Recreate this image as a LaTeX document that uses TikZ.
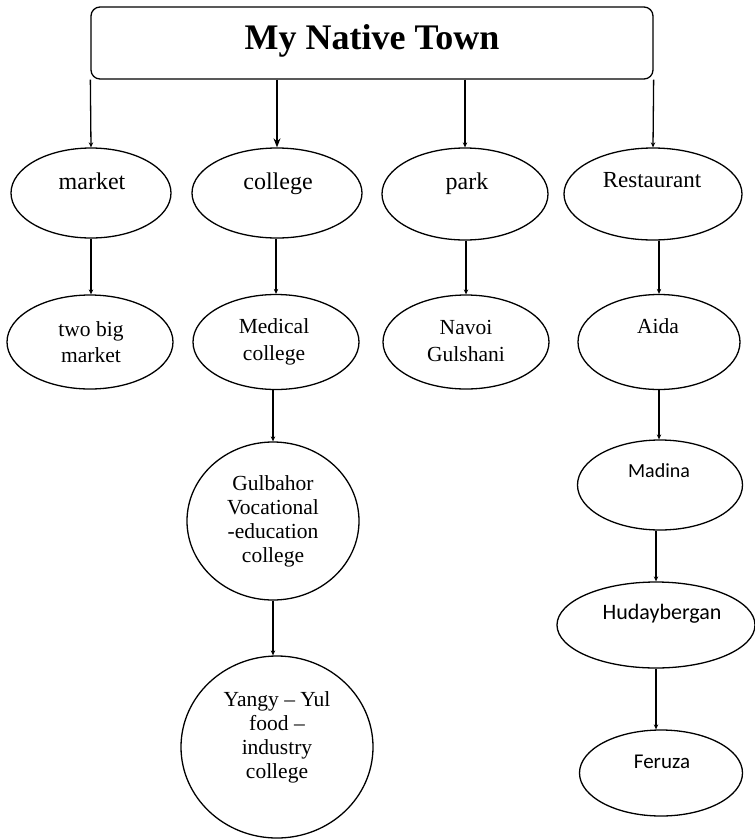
\documentclass[tikz,border=0pt]{standalone}
\usepackage{fontspec}
\setmainfont{Liberation Serif}
\newfontfamily\calibfont{Carlito}
\usetikzlibrary{shapes.geometric,arrows.meta}

\begin{document}
\begin{tikzpicture}[x=1pt,y=-1pt,
  line width=1.3pt,
  titlebox/.style={draw, rectangle, rounded corners=9pt, minimum width=562pt,
    minimum height=72pt, inner sep=0pt},
  oval/.style={draw, ellipse, inner sep=0pt},
  lbl/.style={inner sep=0pt, font=\fontsize{24}{28}\selectfont},
  sublbl/.style={inner sep=0pt, align=center, font=\fontsize{21.5}{26.7}\selectfont},
  circlbl/.style={inner sep=0pt, align=center, font=\fontsize{21.5}{24}\selectfont},
  sanslbl/.style={inner sep=0pt, font=\calibfont\fontsize{21}{24}\selectfont},
  link/.style={-{Stealth[length=5pt,width=4.5pt]}},
  biglink/.style={-{Stealth[length=9pt,width=7pt]}}
]
\useasboundingbox (0,0) rectangle (755,839);

% title
\node[titlebox] (town) at (372,43) {};
\node[inner sep=0pt, anchor=base, font=\fontsize{36}{40}\selectfont\bfseries]
  (town-t) at (372,49) {My Native Town};

% first row
\node[oval, minimum width=160pt, minimum height=90pt] (market) at (91,193) {};
\node[oval, minimum width=170pt, minimum height=90pt] (college) at (277,193) {};
\node[oval, minimum width=166pt, minimum height=92pt] (park) at (465,194) {};
\node[oval, minimum width=178pt, minimum height=92pt] (rest) at (653,194) {};
\node[lbl, anchor=base] (market-t) at (92,189) {market};
\node[lbl, anchor=base] (college-t) at (278,189) {college};
\node[lbl, anchor=base] (park-t) at (467,189) {park};
\node[lbl, anchor=base, font=\fontsize{23}{27}\selectfont] (rest-t) at (652,187) {Restaurant};

% second row
\node[oval, minimum width=166pt, minimum height=94pt] (bigmarket) at (90,342) {};
\node[oval, minimum width=166pt, minimum height=95pt] (medical) at (276,342) {};
\node[oval, minimum width=166pt, minimum height=94pt] (navoi) at (466,342) {};
\node[oval, minimum width=162pt, minimum height=95pt] (aida) at (659,342) {};
\node[sublbl] (bigmarket-t) at (91,342) {two big\\market};
\node[sublbl] (medical-t) at (274,342) {Medical\\college};
\node[sublbl] (navoi-t) at (466,341) {Navoi\\Gulshani};
\node[sublbl, anchor=base] (aida-t) at (658,333) {Aida};

% college branch
\node[oval, minimum width=172pt, minimum height=158pt] (gulbahor) at (273,521) {};
\node[circlbl] (gulbahor-t) at (273,521) {Gulbahor\\Vocational\\-education\\college};
\node[oval, minimum width=192pt, minimum height=182pt] (yangy) at (277,747) {};
\node[circlbl] (yangy-t) at (277,737) {Yangy -- Yul\\food --\\industry\\college};

% restaurant branch
\node[oval, minimum width=165pt, minimum height=90pt] (madina) at (660,485) {};
\node[sanslbl, anchor=base, font=\calibfont\fontsize{20}{24}\selectfont] (madina-t) at (659,477) {Madina};
\node[oval, minimum width=198pt, minimum height=86pt] (huday) at (656,625) {};
\node[sanslbl, anchor=base, font=\calibfont\fontsize{22}{26}\selectfont] (huday-t) at (662,619) {Hudaybergan};
\node[oval, minimum width=163pt, minimum height=86pt] (feruza) at (661,773) {};
\node[sanslbl, anchor=base] (feruza-t) at (662,768) {Feruza};

% connectors from the title box
\draw[link] (town.south west) -- (market.north);
\draw[biglink] (town.south -| college.north) -- (college.north);
\draw[link] (town.south -| park.north) -- (park.north);
\draw[link] (town.south east) -- (rest.north);

% connectors between ovals
\draw[link] (market.south) -- (market.south |- bigmarket.north);
\draw[link] (medical.north |- college.south) -- (medical.north);
\draw[link] (navoi.north |- park.south) -- (navoi.north);
\draw[link] (aida.north |- rest.south) -- (aida.north);
\draw[link] (gulbahor.north |- medical.south) -- (gulbahor.north);
\draw[link] (gulbahor.south) -- (gulbahor.south |- yangy.north);
\draw[link] (aida.south) -- (aida.south |- madina.north);
\draw[link] (huday.north |- madina.south) -- (huday.north);
\draw[link] (huday.south) -- (huday.south |- feruza.north);
\end{tikzpicture}
\end{document}
